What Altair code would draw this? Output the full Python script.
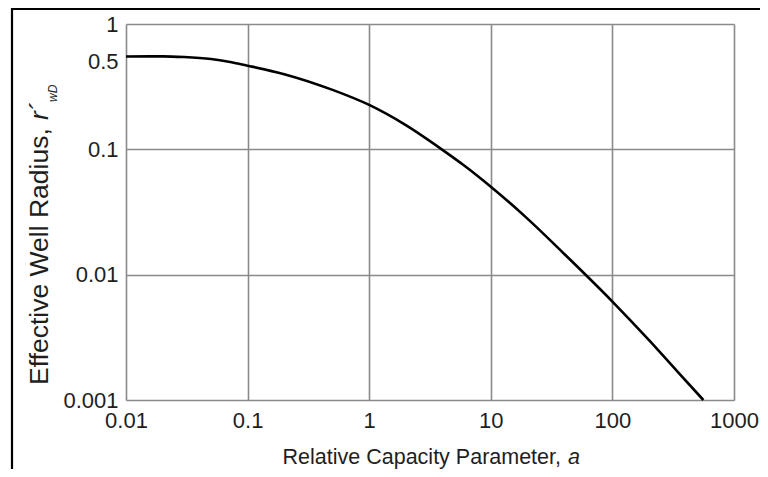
import altair as alt
import pandas as pd

# ---- data ----
a_vals = [0.01, 0.02, 0.03, 0.05, 0.07, 0.1, 0.2, 0.5, 1.0, 2.0, 3.95, 6.0, 10,
          20, 40, 100, 200, 340, 560]
r_vals = [0.55, 0.552, 0.545, 0.525, 0.5, 0.465, 0.398, 0.298, 0.226, 0.156, 0.1, 0.0746, 0.0503,
          0.028, 0.0147, 0.0061, 0.0030, 0.0017, 0.001]
x_ticks = [0.01, 0.1, 1, 10, 100, 1000]
y_ticks = [0.001, 0.01, 0.1, 0.5, 1]

x_title_main = ["Relative Capacity Parameter,"]
x_title_italic = ["a"]
y_title_main = ["Effective Well Radius,"]
y_title_r = ["r\u00b4"]
y_title_sub = ["wD"]

FONT_H = "Liberation Sans"
FONT_V = "Liberation Sans"
FS = 22
GRID = "#8a8a8a"
TXT = "#1e1e1e"

df = pd.DataFrame({"a": a_vals, "r": r_vals})

line = alt.Chart(df).mark_line(color="black", strokeWidth=2.6, interpolate="monotone").encode(
    x=alt.X("a:Q",
            scale=alt.Scale(type="log", domain=[0.01, 1000]),
            axis=alt.Axis(values=x_ticks, format="~g", title=None, ticks=False, domain=False,
                          grid=True, gridColor=GRID, gridWidth=1.6,
                          labelFont=FONT_H, labelFontSize=FS, labelColor=TXT,
                          labelPadding=10, labelFlush=False, labelOverlap=False)),
    y=alt.Y("r:Q",
            scale=alt.Scale(type="log", domain=[0.001, 1]),
            axis=alt.Axis(values=y_ticks, format="~g", title=None, ticks=False, domain=False,
                          grid=True, gridColor=GRID, gridWidth=1.6,
                          gridOpacity=alt.condition("datum.value == 0.5", alt.value(0), alt.value(1)),
                          labelFont=FONT_H, labelFontSize=FS, labelColor=TXT,
                          labelPadding=8, labelBaseline="middle", labelFlush=False,
                          labelOverlap=False)),
)

def txt(items):
    return alt.Chart(pd.DataFrame({"t": items}))

xt1 = txt(x_title_main).mark_text(font=FONT_H, fontSize=21.5, color=TXT, align="right",
                                  baseline="alphabetic").encode(
    text="t:N", x=alt.value(435), y=alt.value(440))
xt2 = txt(x_title_italic).mark_text(font=FONT_H, fontSize=21.5, color=TXT, align="left",
                                    baseline="alphabetic", fontStyle="italic").encode(
    text="t:N", x=alt.value(442), y=alt.value(440))

yt1 = txt(y_title_main).mark_text(font=FONT_V, fontSize=26.5, color=TXT, align="left",
                                  baseline="alphabetic", angle=270).encode(
    text="t:N", x=alt.value(-78), y=alt.value(361))
yt2 = txt(y_title_r).mark_text(font=FONT_V, fontSize=26.5, color=TXT, align="left",
                               baseline="alphabetic", angle=270, fontStyle="italic").encode(
    text="t:N", x=alt.value(-78), y=alt.value(96))
yt3 = txt(y_title_sub).mark_text(font=FONT_V, fontSize=12, color=TXT, align="left",
                                 baseline="alphabetic", angle=270, fontStyle="italic").encode(
    text="t:N", x=alt.value(-69), y=alt.value(78))

# outer frame (top and left edges)
frame_top = alt.Chart(pd.DataFrame({"k": [0]})).mark_rule(color="black", strokeWidth=2.2).encode(
    x=alt.value(-115), x2=alt.value(660), y=alt.value(-15))
frame_left = alt.Chart(pd.DataFrame({"k": [0]})).mark_rule(color="black", strokeWidth=2.2).encode(
    x=alt.value(-114), y=alt.value(-16), y2=alt.value(460))

chart = alt.layer(line, xt1, xt2, yt1, yt2, yt3, frame_top, frame_left).properties(
    width=608, height=376,
    autosize=alt.AutoSizeParams(type="none"),
    padding={"left": 118, "top": 16, "right": 26, "bottom": 69},
).configure_view(stroke=GRID, strokeWidth=1.8).configure(background="white")

chart.save("out.html", embed_options={"renderer": "svg", "actions": False})
